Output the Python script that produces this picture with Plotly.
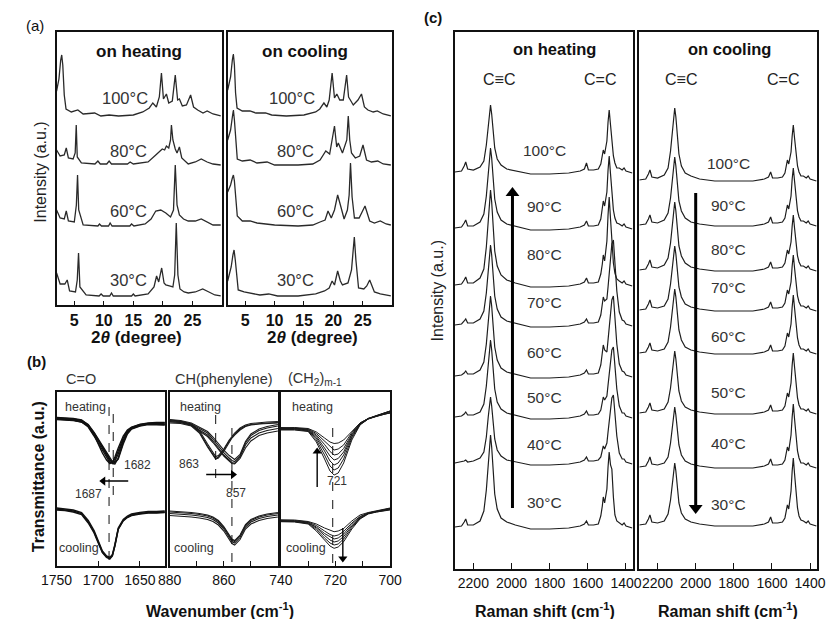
import plotly.graph_objects as go

# ================= DATA =================
# ---- (a) XRD : 2theta (deg) vs stacked intensity (a.u.) ----
xrd_heat_100_x = [2.0, 2.4, 2.7, 2.87, 3.05, 3.3, 3.6, 4.5, 5.6, 6.5, 8.45, 9.5, 10.9, 12.5, 15.0, 16.6, 17.7, 18.3, 18.9, 19.4, 19.76, 20.1, 20.6, 21.0, 21.6, 22.1, 22.5, 22.8, 23.3, 24.0, 24.7, 25.2, 25.9, 26.8, 27.5, 28.5, 29.8]
xrd_heat_100_y = [214, 226, 245, 250, 240, 210, 196, 193, 195, 191, 192, 189, 190, 189, 190, 193, 197, 202, 198, 208, 232, 206, 211, 202, 204, 230, 205, 206, 199, 200, 210, 198, 195, 192, 194, 191, 189]
xrd_heat_80_x = [2.0, 2.6, 3.3, 3.64, 4.0, 4.8, 5.15, 5.33, 5.5, 6.2, 8.5, 9.0, 9.4, 10.5, 10.9, 11.3, 14.0, 14.46, 15.0, 17.5, 18.8, 19.9, 20.3, 20.6, 21.0, 21.3, 21.45, 21.7, 22.1, 22.4, 22.8, 23.2, 24.3, 25.5, 26.5, 27.5, 28.5, 29.8]
xrd_heat_80_y = [155, 149, 150, 157, 147, 146, 152, 180, 148, 142, 141, 144, 141, 141, 144, 141, 141, 143, 141, 143, 150, 156, 155, 159, 157, 165, 180, 165, 156, 152, 158, 147, 141, 143, 146, 143, 141, 140]
xrd_heat_60_x = [2.0, 2.6, 3.3, 3.64, 4.0, 5.0, 5.35, 5.55, 5.75, 6.5, 9.0, 9.27, 9.6, 10.8, 11.07, 11.4, 14.4, 14.7, 15.1, 17.0, 18.0, 18.8, 19.65, 20.5, 21.3, 21.8, 22.1, 22.4, 22.8, 23.5, 24.3, 25.5, 26.5, 27.5, 28.5, 29.8]
xrd_heat_60_y = [95, 87, 86, 94, 84, 83, 100, 130, 95, 80, 79, 81, 79, 79, 82, 79, 79, 81, 79, 81, 86, 94, 95, 92, 88, 95, 140, 100, 90, 86, 84, 84, 86, 83, 80, 80]
xrd_heat_30_x = [2.0, 2.6, 3.4, 3.8, 4.2, 5.2, 5.5, 5.72, 5.95, 7.0, 9.2, 9.54, 9.9, 11.0, 11.3, 11.6, 14.7, 15.0, 15.3, 17.5, 18.5, 18.94, 19.3, 19.8, 20.2, 20.5, 21.1, 21.7, 22.0, 22.27, 22.55, 22.9, 23.6, 24.3, 25.5, 26.75, 27.8, 28.8, 29.8]
xrd_heat_30_y = [32, 21, 21, 25, 14, 13, 25, 52, 18, 10, 9, 11, 9, 9, 12, 9, 9, 11, 9, 11, 18, 29, 23, 37, 22, 20, 19, 18, 30, 82, 30, 16, 13, 12, 13, 16, 13, 10, 9]

xrd_cool_100_x = [2.0, 2.5, 2.8, 2.97, 3.15, 3.35, 3.6, 4.5, 5.8, 6.8, 8.45, 9.5, 12.0, 15.0, 17.0, 17.7, 18.4, 18.9, 19.3, 19.8, 20.2, 20.6, 21.1, 21.7, 22.27, 22.6, 22.8, 23.4, 24.2, 24.8, 25.3, 25.9, 26.8, 27.5, 28.5, 29.8]
xrd_cool_100_y = [215, 228, 245, 251, 240, 212, 197, 194, 194, 192, 192, 190, 189, 190, 193, 196, 202, 198, 205, 232, 207, 211, 205, 205, 230, 208, 206, 200, 205, 211, 198, 195, 193, 194, 191, 189]
xrd_cool_80_x = [2.0, 2.5, 2.8, 2.98, 3.15, 3.4, 3.64, 4.5, 5.83, 7.0, 8.72, 10.0, 14.0, 16.5, 17.74, 18.72, 19.38, 20.2, 20.58, 20.85, 21.56, 22.3, 22.55, 22.8, 23.1, 23.75, 24.5, 25.06, 25.66, 26.5, 27.57, 28.5, 29.8]
xrd_cool_80_y = [165, 175, 188, 195, 185, 160, 146, 144, 145, 142, 143, 140, 140, 141, 145, 154, 151, 179, 158, 162, 152, 165, 189, 165, 152, 147, 149, 160, 145, 143, 144, 141, 140]
xrd_cool_60_x = [2.0, 2.5, 2.8, 2.98, 3.15, 3.4, 3.64, 4.5, 5.83, 7.0, 8.9, 10.0, 14.0, 16.5, 17.74, 18.6, 19.1, 19.65, 20.2, 20.74, 21.3, 21.84, 22.4, 22.7, 22.93, 23.2, 23.6, 24.4, 25.4, 25.9, 26.2, 27.0, 28.0, 29.0, 29.8]
xrd_cool_60_y = [113, 120, 127, 130, 124, 105, 89, 84, 84, 82, 81, 80, 79, 80, 83, 85, 94, 87, 95, 110, 98, 86, 95, 110, 142, 108, 87, 87, 99, 88, 84, 82, 84, 81, 80]
xrd_cool_30_x = [2.0, 2.6, 2.9, 3.09, 3.3, 3.55, 3.8, 4.8, 6.0, 7.5, 9.0, 10.5, 14.0, 17.0, 18.5, 19.3, 19.8, 20.2, 20.74, 21.2, 21.56, 22.5, 23.1, 23.35, 23.58, 23.85, 24.3, 25.2, 25.7, 26.2, 26.7, 27.0, 28.0, 29.8]
xrd_cool_30_y = [24, 38, 50, 55, 45, 25, 15, 13, 12, 10, 11, 9, 9, 11, 14, 17, 24, 20, 34, 24, 20, 22, 35, 50, 68, 45, 17, 16, 19, 25, 16, 13, 11, 9]

xrd_temps = ["100°C", "80°C", "60°C", "30°C"]
xrd_heat_label_x = [13.6, 14.1, 14.1, 14.1]
xrd_cool_label_x = [12.9, 13.5, 13.5, 13.5]
xrd_label_y = [207, 154, 94, 25]
xrd_ticks = [5, 10, 15, 20, 25]

# ---- (b) FTIR : wavenumber (cm-1) vs transmittance (a.u.) ----
ir_co_x = [1750, 1740, 1730, 1720, 1712, 1705, 1700, 1695, 1690, 1686, 1683, 1680, 1676, 1670, 1665, 1660, 1650, 1640, 1630, 1620]
ir_co_heat_1 = [148.5, 148, 147.5, 146, 141, 132, 125, 117, 110, 105.5, 104, 107, 115, 128, 135, 138.5, 141.5, 143, 143.5, 143.5]
ir_co_heat_2 = [147, 146.5, 146, 144, 139, 130, 123, 115, 108, 103.5, 103, 105, 112, 126, 134, 138, 141, 142.5, 142.5, 142]
ir_co_heat_3 = [147.5, 147, 146, 144.5, 140, 131, 122, 113, 106, 102.5, 104, 109, 118, 130, 136, 139, 141.5, 142.5, 143, 143]
ir_co_heat_4 = [146.5, 146, 145.5, 144, 140.5, 133, 126, 119, 112, 106, 102.5, 102, 108, 124, 133, 137.5, 140.5, 142, 142, 141.5]
ir_co_heat_5 = [148, 147.5, 147, 145.5, 141.5, 133.5, 127, 120, 113, 107.5, 104.5, 103.5, 107, 122, 132, 137, 140, 141.5, 141.5, 141]
ir_co_cool_1 = [57, 56, 55, 52.5, 44, 34, 24, 14, 9, 7.5, 10.5, 20.5, 37, 45.5, 49, 51, 52.5, 53.5, 53.5, 54]
ir_co_cool_2 = [56, 55.5, 54, 51.5, 43, 33, 23, 13.5, 8.5, 7, 10, 20, 36.5, 45, 48.5, 50.5, 52, 53, 53, 53.5]
ir_co_cool_3 = [58, 57, 56, 53.5, 45.5, 35.5, 25.5, 15, 10, 8.5, 11.5, 21.5, 38, 46.5, 50, 52, 53.5, 54.5, 54.5, 55]

ir_ch_x = [880, 876, 872, 869, 866, 864, 863, 862, 860, 858, 857, 856, 854, 852, 850, 847, 844, 840]
ir_ch_heat_a1 = [144, 143.5, 141, 134, 120, 111, 107.5, 109, 116, 125, 129, 132, 137, 140, 141.5, 142.5, 143, 143.5]
ir_ch_heat_a2 = [145, 144.5, 142, 135.5, 122, 113, 109.5, 110.5, 117, 126, 130, 133, 138, 141, 142.5, 143.5, 144, 144.5]
ir_ch_heat_a3 = [143, 142.5, 140, 133, 119, 110.5, 107, 108, 114.5, 123.5, 128, 131, 136, 139.5, 141, 142, 142.5, 143]
ir_ch_heat_b1 = [145.5, 144.5, 141, 136, 131, 125, 121, 118, 111, 106, 103.5, 102.7, 109, 121, 128, 133, 135.5, 137.5]
ir_ch_heat_b2 = [146, 145, 142, 137.5, 133, 127, 123.5, 120, 113.5, 108, 105.5, 104.5, 110, 123, 130.5, 135.5, 138, 140]
ir_ch_heat_b3 = [144.5, 143.5, 140.5, 135, 129.5, 123.5, 120, 117, 110, 105, 102.5, 102, 107.5, 118, 125, 130.5, 133, 135]
ir_ch_heat_b4 = [146.5, 145.5, 143, 138.5, 134.5, 129, 125.5, 122, 116, 110.5, 108, 106.5, 111.5, 124.5, 132, 137, 139.5, 141.5]
ir_ch_cool_1 = [52.5, 52, 51, 50, 48.5, 46.5, 45, 43, 37, 28, 24.5, 23, 28.5, 39, 44, 47.5, 49.5, 51]
ir_ch_cool_2 = [55, 54.5, 53.5, 52.5, 51, 49, 47.5, 45.5, 39.5, 30.5, 27, 25.5, 31, 41.5, 46.5, 50, 52, 53.5]
ir_ch_cool_3 = [50.5, 50, 49, 48, 46.5, 44.5, 43, 41, 35, 26, 22.5, 21, 26.5, 37, 42, 45.5, 47.5, 49]
ir_ch_cool_4 = [54, 53.5, 52.5, 51.5, 50, 48, 46.5, 44.5, 38.5, 29.5, 26, 24.5, 30, 40.5, 45.5, 49, 51, 52.5]

ir_ch2_x = [740, 735, 730, 727, 724, 722, 720.5, 719, 717, 714, 711, 708, 705, 702, 700]
ir_ch2_heat_1 = [136, 136, 134.5, 124, 107, 95, 91, 93, 103, 126, 141, 147, 150, 153, 155]
ir_ch2_heat_2 = [136.5, 136.5, 135, 126, 111, 100, 96, 98, 107, 128, 141.5, 147, 150, 152.5, 154.5]
ir_ch2_heat_3 = [137, 137, 135.5, 128, 115, 105, 101, 103, 111, 129.5, 142, 147.5, 150.5, 153, 155]
ir_ch2_heat_4 = [137.5, 137.5, 136, 129.5, 118, 110, 106, 107.5, 114, 131, 142, 147, 149.5, 152, 153.5]
ir_ch2_heat_5 = [138, 138, 136.5, 131, 121.5, 114.5, 111, 112, 117.5, 132, 142.5, 147.5, 150, 152, 153]
ir_ch2_heat_6 = [138.5, 138, 137, 132.5, 125, 119, 116, 117, 121, 133.5, 143, 147.5, 150.5, 153, 154.5]
ir_ch2_heat_7 = [138, 138.5, 137.5, 134, 128, 124, 122.5, 123, 126, 135, 143, 147.5, 150, 152, 153]
ir_ch2_cool_1 = [44.3, 44, 42, 35, 26, 20, 17.7, 19, 24.3, 37, 47, 52, 54, 55.5, 56]
ir_ch2_cool_2 = [45, 44.5, 42.5, 36.5, 28, 23, 21, 22, 27, 38.5, 47.5, 52.5, 54.5, 56, 57]
ir_ch2_cool_3 = [44.5, 44.5, 43, 38, 30.5, 26, 24, 25, 29.5, 40, 48, 52.5, 54, 55.5, 56.5]
ir_ch2_cool_4 = [45.5, 45, 43.5, 39, 32.5, 29, 27, 28, 32, 41.5, 49, 53, 55, 56.5, 57.5]
ir_ch2_cool_5 = [46, 45.5, 44, 40.5, 35, 31.5, 30, 31, 34.5, 43, 49.5, 53, 54.5, 56, 57.5]
ir_ch2_cool_6 = [46, 46, 44.5, 42, 38, 35.5, 34.3, 35, 37.5, 45, 51, 53.5, 55, 56.5, 58]

# peak markers (cm-1) and the transmittance span of each dashed guide
ir_co_marks = [1687, 1682]
ir_co_mark_y = [[6, 159], [71, 159]]
ir_ch_marks = [863, 857]
ir_ch_mark_y = [[88, 159], [4, 138]]
ir_ch2_marks = [721]
ir_ch2_mark_y = [[3, 138]]

# shift arrows: (panel axis, shaft x, shaft y, head symbol)
ir_arrows = [
    ("3", [1664, 1694], [85, 85], "triangle-left"),
    ("4", [866.5, 856.6], [91.5, 91.5], "triangle-right"),
    ("5", [726.7, 726.7], [79, 114.5], "triangle-up"),
    ("5", [717.3, 717.3], [38, 7.5], "triangle-down"),
]

# ---- (c) Raman : shift (cm-1) vs intensity (relative to each baseline) ----
raman_x = [2297, 2262, 2248, 2240, 2230, 2200, 2165, 2145, 2132, 2122, 2116, 2110, 2104, 2097, 2088, 2075, 2055, 2025, 1980, 1900, 1800, 1700, 1640, 1618, 1607, 1597, 1570, 1545, 1532, 1524, 1519, 1512, 1500, 1494, 1488, 1481, 1474, 1466, 1458, 1448, 1435, 1420, 1410, 1400, 1367]
raman_temps = ["100°C", "90°C", "80°C", "70°C", "60°C", "50°C", "40°C", "30°C"]
raman_heat_100 = [0, 1, 6, 10, 3, 2, 5, 11, 27, 47, 60, 67, 58, 40, 24, 13, 7, 3, 1, -2, -2, -1, 1, 3, 9, 2, 2, 3, 8, 15, 22, 18, 31, 50, 62, 47, 28, 16, 9, 4, 4, 2, 4, 1, -1]
raman_heat_90 = [0, 1, 5, 8, 2, 2, 6, 14, 32, 56, 72, 80, 70, 48, 29, 16, 8, 4, 2, -2, -2, -1, 1, 3, 7, 2, 2, 3, 9, 19, 27, 22, 36, 58, 72, 54, 32, 18, 10, 5, 4, 2, 4, 1, -1]
raman_heat_80 = [0, 1, 5, 8, 2, 2, 7, 16, 38, 67, 86, 95, 83, 57, 34, 19, 10, 5, 2, -2, -2, -1, 1, 3, 7, 2, 2, 3, 11, 21, 30, 24, 44, 70, 88, 66, 40, 22, 12, 6, 4, 2, 4, 1, -1]
raman_heat_70 = [0, 1, 4, 6, 2, 2, 6, 14, 32, 56, 72, 80, 70, 48, 29, 16, 8, 4, 2, -2, -2, -1, 1, 3, 6, 2, 2, 3, 10, 20, 28, 24, 26, 38, 53, 68, 81, 85, 64, 34, 13, 5, 4, 1, -1]
raman_heat_60 = [0, 1, 3, 5, 2, 2, 6, 14, 32, 56, 72, 80, 70, 48, 29, 16, 8, 4, 2, -2, -2, -1, 1, 3, 6, 2, 2, 3, 11, 22, 31, 26, 24, 36, 50, 64, 76, 80, 60, 32, 12, 5, 4, 1, -1]
raman_heat_50 = [0, 1, 3, 5, 2, 2, 5, 13, 31, 54, 69, 77, 67, 46, 28, 15, 8, 4, 2, -2, -2, -1, 1, 3, 6, 2, 2, 3, 7, 14, 20, 17, 21, 32, 43, 56, 67, 70, 53, 28, 11, 4, 4, 1, -1]
raman_heat_40 = [0, 1, 2, 3, 1, 2, 5, 11, 26, 46, 59, 66, 57, 40, 24, 13, 7, 3, 1, -2, -2, -1, 1, 3, 6, 2, 2, 3, 6, 12, 17, 14, 20, 31, 42, 54, 65, 68, 51, 27, 10, 4, 4, 1, -1]
raman_heat_30 = [0, 1, 5, 8, 2, 2, 6, 16, 37, 64, 83, 92, 80, 55, 33, 18, 9, 5, 2, -2, -2, -1, 1, 3, 6, 2, 2, 3, 11, 21, 30, 24, 38, 60, 75, 62, 58, 30, 12, 6, 4, 2, 4, 1, -1]
raman_cool_100 = [0, 1, 6, 10, 3, 2, 5, 12, 29, 50, 65, 72, 63, 43, 26, 14, 7, 4, 1, -1, -1, -1, 1, 3, 8, 2, 2, 3, 7, 14, 20, 16, 28, 44, 55, 41, 25, 14, 8, 4, 4, 2, 4, 1, -1]
raman_cool_90 = [0, 1, 6, 10, 3, 2, 5, 12, 27, 48, 61, 68, 59, 41, 24, 14, 7, 3, 1, -1, -1, -1, 1, 3, 8, 2, 2, 3, 7, 14, 20, 16, 29, 46, 57, 43, 26, 14, 8, 4, 4, 2, 4, 1, -1]
raman_cool_80 = [0, 1, 6, 10, 3, 2, 5, 12, 27, 48, 61, 68, 59, 41, 24, 14, 7, 3, 1, -1, -1, -1, 1, 3, 8, 2, 2, 3, 7, 14, 20, 16, 28, 44, 55, 41, 25, 14, 8, 4, 4, 2, 4, 1, -1]
raman_cool_70 = [0, 1, 6, 10, 3, 2, 4, 11, 26, 45, 58, 64, 56, 38, 23, 13, 6, 3, 1, -1, -1, -1, 1, 3, 8, 2, 2, 3, 7, 14, 20, 16, 28, 44, 55, 41, 25, 14, 8, 4, 4, 2, 4, 1, -1]
raman_cool_60 = [0, 1, 6, 10, 3, 2, 4, 11, 26, 45, 58, 64, 56, 38, 23, 13, 6, 3, 1, -1, -1, -1, 1, 3, 8, 2, 2, 3, 7, 14, 20, 16, 29, 46, 58, 44, 26, 15, 8, 4, 4, 2, 4, 1, -1]
raman_cool_50 = [0, 1, 6, 10, 3, 2, 4, 11, 25, 43, 56, 62, 54, 37, 22, 12, 6, 3, 1, -1, -1, -1, 1, 3, 8, 2, 2, 3, 7, 14, 20, 16, 30, 48, 60, 45, 27, 15, 8, 4, 4, 2, 4, 1, -1]
raman_cool_40 = [0, 1, 6, 10, 3, 2, 4, 10, 24, 42, 54, 60, 52, 36, 22, 12, 6, 3, 1, -1, -1, -1, 1, 3, 8, 2, 2, 3, 7, 14, 20, 16, 32, 50, 63, 47, 28, 16, 9, 4, 4, 2, 4, 1, -1]
raman_cool_30 = [0, 1, 6, 10, 3, 2, 4, 11, 25, 43, 56, 62, 54, 37, 22, 12, 6, 3, 1, -1, -1, -1, 1, 3, 8, 2, 2, 3, 7, 14, 20, 16, 34, 54, 67, 50, 30, 17, 9, 5, 4, 2, 4, 1, -1]
# vertical stacking offsets of the spectra (100 -> 30 °C)
raman_heat_offset = [397, 341, 284, 244, 193, 152, 106, 42]
raman_cool_offset = [389, 344, 299, 259, 216, 156, 102, 44]
raman_heat_label_y = [419, 362, 314, 266, 216, 171, 124, 66]
raman_cool_label_y = [406, 363, 319, 281, 232, 176, 125, 64]
raman_label_x = 1828
raman_ticks = [2200, 2000, 1800, 1600, 1400]
# temperature-sweep arrows: (panel axis, shaft x, shaft y, head symbol)
raman_arrows = [
    ("6", [1995, 1995], [61, 376], "triangle-up"),
    ("7", [2000, 2000], [376, 61], "triangle-down"),
]

# ================= FIGURE =================
SANS = "Liberation Sans, Arial, Helvetica, sans-serif"
INK = "#1a1a1a"
TXT = "#333333"

fig = go.Figure()


def add_line(x, y, ax, color=INK, width=1.2, dash=None):
    fig.add_trace(go.Scatter(x=x, y=y, mode="lines", xaxis="x" + ax, yaxis="y" + ax,
                             line=dict(color=color, width=width, dash=dash),
                             hoverinfo="skip", showlegend=False))


def add_arrow(ax, xs, ys, symbol, width, head):
    add_line(xs, ys, ax, color="#000000", width=width)
    fig.add_trace(go.Scatter(x=[xs[-1]], y=[ys[-1]], mode="markers", xaxis="x" + ax,
                             yaxis="y" + ax, hoverinfo="skip", showlegend=False,
                             marker=dict(symbol=symbol, size=head, color="#000000",
                                         line=dict(width=0))))


# (a)
for xx, yy in [(xrd_heat_100_x, xrd_heat_100_y), (xrd_heat_80_x, xrd_heat_80_y),
               (xrd_heat_60_x, xrd_heat_60_y), (xrd_heat_30_x, xrd_heat_30_y)]:
    add_line(xx, yy, "1", color="#2a2a2a", width=1.3)
for xx, yy in [(xrd_cool_100_x, xrd_cool_100_y), (xrd_cool_80_x, xrd_cool_80_y),
               (xrd_cool_60_x, xrd_cool_60_y), (xrd_cool_30_x, xrd_cool_30_y)]:
    add_line(xx, yy, "2", color="#2a2a2a", width=1.3)

# (b)
for yy in [ir_co_heat_1, ir_co_heat_2, ir_co_heat_3, ir_co_heat_4, ir_co_heat_5,
           ir_co_cool_1, ir_co_cool_2, ir_co_cool_3]:
    add_line(ir_co_x, yy, "3", color="#111111", width=1.4)
for yy in [ir_ch_heat_a1, ir_ch_heat_a2, ir_ch_heat_a3, ir_ch_heat_b1, ir_ch_heat_b2,
           ir_ch_heat_b3, ir_ch_heat_b4, ir_ch_cool_1, ir_ch_cool_2, ir_ch_cool_3, ir_ch_cool_4]:
    add_line(ir_ch_x, yy, "4", color="#1a1a1a", width=1.1)
for yy in [ir_ch2_heat_1, ir_ch2_heat_2, ir_ch2_heat_3, ir_ch2_heat_4, ir_ch2_heat_5,
           ir_ch2_heat_6, ir_ch2_heat_7, ir_ch2_cool_1, ir_ch2_cool_2, ir_ch2_cool_3,
           ir_ch2_cool_4, ir_ch2_cool_5, ir_ch2_cool_6]:
    add_line(ir_ch2_x, yy, "5", color="#1a1a1a", width=1.0)
for marks, spans, ax in [(ir_co_marks, ir_co_mark_y, "3"), (ir_ch_marks, ir_ch_mark_y, "4"),
                         (ir_ch2_marks, ir_ch2_mark_y, "5")]:
    for m, sp in zip(marks, spans):
        add_line([m, m], sp, ax, color="#111111", width=1.0, dash="dash")
for ax, xs, ys, sym in ir_arrows:
    add_arrow(ax, xs, ys, sym, 1.4, 8)

# (c)
heat_sets = [raman_heat_100, raman_heat_90, raman_heat_80, raman_heat_70,
             raman_heat_60, raman_heat_50, raman_heat_40, raman_heat_30]
cool_sets = [raman_cool_100, raman_cool_90, raman_cool_80, raman_cool_70,
             raman_cool_60, raman_cool_50, raman_cool_40, raman_cool_30]
for rel, off in zip(heat_sets, raman_heat_offset):
    add_line(raman_x, [v + off for v in rel], "6", color="#1e1e1e", width=1.2)
for rel, off in zip(cool_sets, raman_cool_offset):
    add_line(raman_x, [v + off for v in rel], "7", color="#1e1e1e", width=1.2)
for ax, xs, ys, sym in raman_arrows:
    add_arrow(ax, xs, ys, sym, 3, 12)

# ---------- axes ----------
frame = dict(showline=True, mirror=True, linecolor="#111111", linewidth=1.6,
             showgrid=False, zeroline=False)


def xaxis(domain, rng, anchor, tickvals, ticklen, tickfont, minor_vals=None):
    d = dict(frame)
    d.update(domain=domain, range=rng, anchor=anchor, ticks="inside", ticklen=ticklen,
             tickwidth=1.3, tickcolor="#111111", tickvals=tickvals,
             ticktext=[str(t) for t in tickvals], tickfont=tickfont, tickangle=0)
    if minor_vals:
        d["minor"] = dict(tickvals=minor_vals, ticks="inside", ticklen=ticklen,
                          tickwidth=1.3, tickcolor="#111111", showgrid=False)
    return d


def yaxis(domain, rng, anchor):
    d = dict(frame)
    d.update(domain=domain, range=rng, anchor=anchor, ticks="", showticklabels=False)
    return d


font_a = dict(family=SANS, size=16, color="#111111", weight="bold")
font_b = dict(family=SANS, size=14, color="#111111")

ya = [0.5073, 0.9483]
yb = [0.0856, 0.3667]
yc = [0.0808, 0.9483]

fig.update_layout(
    width=838, height=619, margin=dict(l=0, r=0, t=0, b=0),
    paper_bgcolor="white", plot_bgcolor="white", showlegend=False,
    xaxis=xaxis([0.0501, 0.2542], [2, 30], "y", xrd_ticks, 4, font_a),
    yaxis=yaxis(ya, [0, 273], "x"),
    xaxis2=xaxis([0.2613, 0.4642], [2, 30], "y2", xrd_ticks, 4, font_a),
    yaxis2=yaxis(ya, [0, 273], "x2"),
    xaxis3=xaxis([0.0501, 0.1838], [1750, 1620], "y3", [1750, 1700, 1650], 5, font_b),
    yaxis3=yaxis(yb, [0, 174], "x3"),
    xaxis4=xaxis([0.1897, 0.3234], [880, 840], "y4", [880, 860], 5, font_b, [870, 850]),
    yaxis4=yaxis(yb, [0, 174], "x4"),
    xaxis5=xaxis([0.3270, 0.4618], [740, 700], "y5", [740, 720, 700], 5, font_b, [730, 710]),
    yaxis5=yaxis(yb, [0, 174], "x5"),
    xaxis6=xaxis([0.5418, 0.7613], [2297, 1365], "y6", raman_ticks, 6, font_b),
    yaxis6=yaxis(yc, [0, 537], "x6"),
    xaxis7=xaxis([0.7697, 0.9893], [2295, 1362], "y7", raman_ticks, 6, font_b),
    yaxis7=yaxis(yc, [0, 537], "x7"),
)

ann = []


def paper_text(x, y, text, size=16, bold=False, angle=0, color="#111111"):
    ann.append(dict(x=x, y=y, xref="paper", yref="paper", text=text, showarrow=False,
                    xanchor="center", yanchor="middle", textangle=angle,
                    font=dict(family=SANS, size=size, color=color,
                              weight="bold" if bold else "normal")))


def data_text(ax, x, y, text, size=16, color=TXT):
    ann.append(dict(x=x, y=y, xref="x" + ax, yref="y" + ax, text=text, showarrow=False,
                    xanchor="center", yanchor="middle",
                    font=dict(family=SANS, size=size, color=color)))


# panel letters
paper_text(0.0239, 0.9596, "(a)", 15)
paper_text(0.0251, 0.4168, "(b)", 15, bold=True)
paper_text(0.5143, 0.9725, "(c)", 15, bold=True)
# axis titles
paper_text(0.0292, 0.7221, "Intensity (a.u.)", 16, angle=-90, color="#222222")
paper_text(0.0274, 0.2294, "Transmittance (a.u.)", 16, bold=True, angle=-90)
paper_text(0.5215, 0.5299, "Intensity (a.u.)", 16, angle=-90, color="#222222")
paper_text(0.1492, 0.4540, "2<i>θ</i> (degree)", 17, bold=True)
paper_text(0.3663, 0.4540, "2<i>θ</i> (degree)", 17, bold=True)
paper_text(0.2518, 0.0145, "Wavenumber (cm<sup>-1</sup>)", 16, bold=True)
paper_text(0.6527, 0.0145, "Raman shift (cm<sup>-1</sup>)", 16, bold=True)
paper_text(0.8795, 0.0145, "Raman shift (cm<sup>-1</sup>)", 16, bold=True)
# (a) headers and temperatures
paper_text(0.1516, 0.9176, "on heating", 17, bold=True)
paper_text(0.3568, 0.9176, "on cooling", 17, bold=True)
for t, xh, xc, y in zip(xrd_temps, xrd_heat_label_x, xrd_cool_label_x, xrd_label_y):
    data_text("1", xh, y, t, 16.5)
    data_text("2", xc, y, t, 16.5)
# (b) labels
paper_text(0.0800, 0.3877, "C=O", 14.5, color=TXT)
paper_text(0.2572, 0.3877, "CH(phenylene)", 14.5, color=TXT)
paper_text(0.3693, 0.3877, "(CH<sub>2</sub>)<sub>m-1</sub>", 14.5, color=TXT)
data_text("3", 1715, 159.5, "heating", 12.5)
data_text("4", 868.5, 159.5, "heating", 12.5)
data_text("5", 728.4, 159.5, "heating", 12.5)
data_text("3", 1722.7, 18.5, "cooling", 12.5)
data_text("4", 870.9, 18.5, "cooling", 12.5)
data_text("5", 730.8, 18.5, "cooling", 12.5)
data_text("3", 1653, 101, "1682", 12)
data_text("3", 1712, 72, "1687", 12)
data_text("4", 873, 102, "863", 12)
data_text("4", 855.4, 73.5, "857", 12)
data_text("5", 719.3, 85, "721", 12)
# (c) headers, bands, temperatures
paper_text(0.6653, 0.9208, "on heating", 16.5, bold=True)
paper_text(0.8813, 0.9208, "on cooling", 16.5, bold=True)
paper_text(0.5961, 0.8708, "C≡C", 16, color="#222222")
paper_text(0.7213, 0.8708, "C=C", 16, color="#222222")
paper_text(0.8216, 0.8708, "C≡C", 16, color="#222222")
paper_text(0.9475, 0.8708, "C=C", 16, color="#222222")
for t, yh, yc_ in zip(raman_temps, raman_heat_label_y, raman_cool_label_y):
    data_text("6", raman_label_x, yh, t, 15.5)
    data_text("7", raman_label_x, yc_, t, 15.5)

fig.update_layout(annotations=ann)
fig.write_html("out.html")
